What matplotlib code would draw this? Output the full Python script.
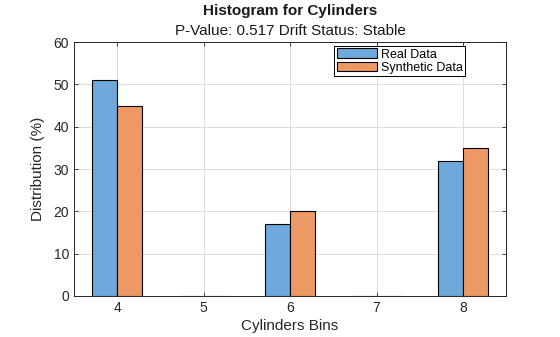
import numpy as np
import matplotlib.pyplot as plt

plt.rcParams['font.family'] = ['Liberation Sans', 'DejaVu Sans']

# data
bins = [4, 5, 6, 7, 8]
real_data = [51, 0, 17, 0, 32]
synthetic_data = [45, 0, 20, 0, 35]
p_value = 0.517
drift_status = "Stable"

fig = plt.figure(figsize=(5.6, 3.37), dpi=100)
ax = fig.add_axes([0.132, 0.1217, 0.772, 0.7533])

x = np.array(bins)
w = 0.29
ax.bar(x - w / 2, real_data, width=w, color='#6fa8db',
       edgecolor='black', linewidth=0.8, label='Real Data', zorder=3)
ax.bar(x + w / 2, synthetic_data, width=w, color='#ec9966',
       edgecolor='black', linewidth=0.8, label='Synthetic Data', zorder=3)

ax.set_xlim(3.5, 8.5)
ax.set_ylim(0, 60)
ax.set_xticks(bins)
ax.set_yticks(range(0, 61, 10))
ax.tick_params(direction='in', length=3, top=True, right=True, labelsize=10,
               colors='#262626', width=0.6)
ax.grid(True, color='#dcdcdc', linewidth=0.7, zorder=0)
ax.set_axisbelow(True)
for s in ax.spines.values():
    s.set_linewidth(0.7)
    s.set_color('#262626')

ax.set_xlabel('Cylinders Bins', fontsize=11, color='#262626', labelpad=3)
ax.set_ylabel('Distribution (%)', fontsize=11, color='#262626', labelpad=6)

fig.text(0.518, 0.966, 'Histogram for Cylinders', ha='center', va='center',
         fontsize=11, fontweight='bold', color='#1a1a1a')
fig.text(0.518, 0.907, f'P-Value: {p_value} Drift Status: {drift_status}',
         ha='center', va='center', fontsize=11, color='#1a1a1a')

leg = ax.legend(loc='upper right', bbox_to_anchor=(0.905, 0.985), fontsize=9,
                frameon=True, fancybox=False, edgecolor='black', framealpha=1,
                borderpad=0.2, labelspacing=0.1, handlelength=3.2,
                handleheight=0.8, handletextpad=0.3, borderaxespad=0)
leg.get_frame().set_linewidth(0.7)

fig.savefig('out.png', dpi=100)
